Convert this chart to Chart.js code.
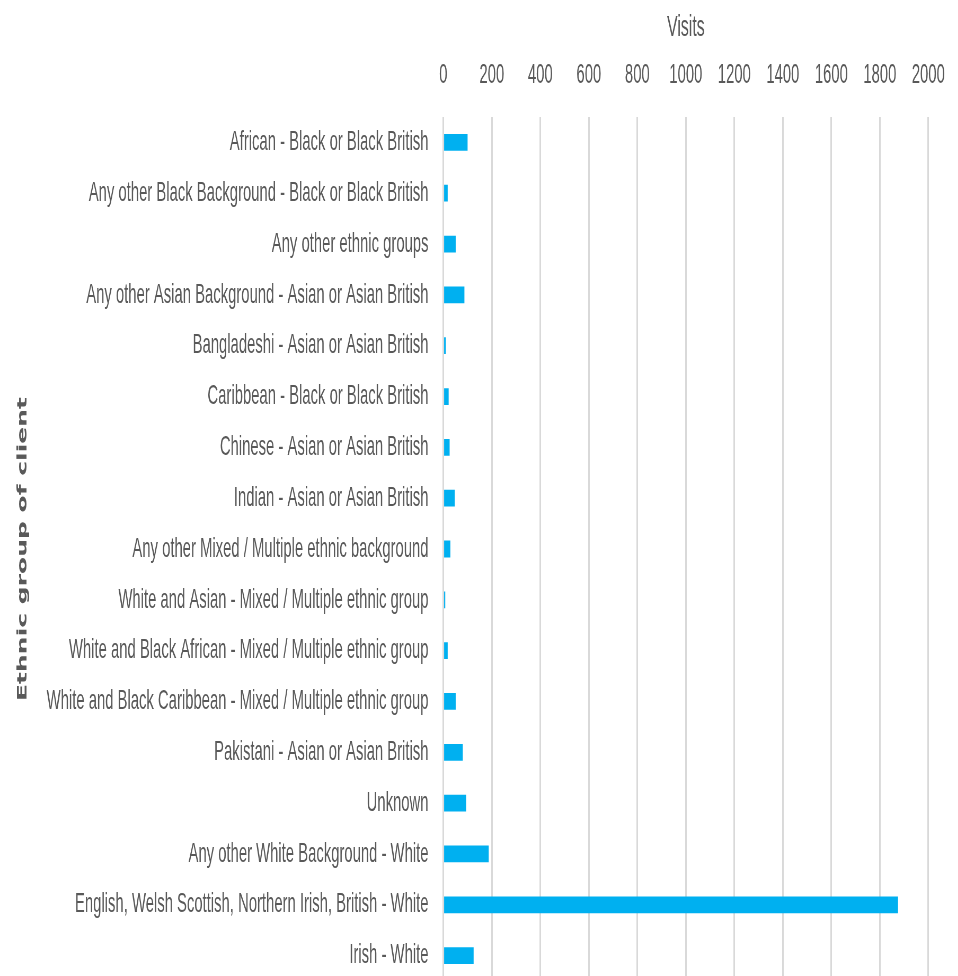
<!DOCTYPE html>
<html>
<head>
<meta charset="utf-8">
<script src="https://cdn.jsdelivr.net/npm/chart.js@4/dist/chart.umd.min.js"></script>
<style>
  html, body { margin: 0; padding: 0; overflow: hidden; background: #fff; }
  /* chart is drawn wide, then narrowed so the text comes out condensed */
  #wrap { width: 1808px; height: 981px; transform: scaleX(0.5299); transform-origin: 0 0; }
</style>
</head>
<body>
<div id="wrap"><canvas id="chart" width="1808" height="981"></canvas></div>
<script>
const groups = [
    'African - Black or Black British',
    'Any other Black Background - Black or Black British',
    'Any other ethnic groups',
    'Any other Asian Background - Asian or Asian British',
    'Bangladeshi - Asian or Asian British',
    'Caribbean - Black or Black British',
    'Chinese - Asian or Asian British',
    'Indian - Asian or Asian British',
    'Any other Mixed / Multiple ethnic background',
    'White and Asian - Mixed / Multiple ethnic group',
    'White and Black African - Mixed / Multiple ethnic group',
    'White and Black Caribbean - Mixed / Multiple ethnic group',
    'Pakistani - Asian or Asian British',
    'Unknown',
    'Any other White Background - White',
    'English, Welsh Scottish, Northern Irish, British - White',
    'Irish - White'
];
const visits = [100, 18, 51, 87, 10, 22, 26, 47, 29, 8, 18, 51, 80, 94, 187, 1875, 125];

const textColor = '#595959';
const gridColor = '#d9d9d9';

document.addEventListener('DOMContentLoaded', () => {
    const ctx = document.getElementById('chart').getContext('2d');
    const config = {
        type: 'bar',
        data: {
            labels: groups,
            datasets: [{
                label: 'Visits',
                data: visits,
                backgroundColor: '#00b0f0',
                borderWidth: 0,
                barPercentage: 0.33,
                categoryPercentage: 1
            }]
        },
        options: {
            indexAxis: 'y',
            responsive: false,
            devicePixelRatio: 1,
            animation: false,
            layout: { padding: { left: 0, right: 56, top: 0, bottom: 0 } },
            plugins: {
                legend: { display: false },
                tooltip: { enabled: false }
            },
            scales: {
                x: {
                    position: 'top',
                    min: 0,
                    max: 2000,
                    afterFit: scale => { scale.height = 117; },
                    ticks: {
                        stepSize: 200,
                        padding: 25,
                        color: textColor,
                        font: { family: 'Liberation Sans', size: 28 },
                        callback: value => String(value)
                    },
                    grid: { color: gridColor, lineWidth: 3, drawTicks: false },
                    border: { display: false },
                    title: {
                        display: true,
                        text: 'Visits',
                        color: textColor,
                        padding: { top: 10, bottom: 0 },
                        font: { family: 'Liberation Sans', size: 30 }
                    }
                },
                y: {
                    // bars run to the bottom edge, so no room kept for label overhang
                    afterFit: scale => {
                        scale.width = 836.6;
                        scale.paddingTop = 0;
                        scale.paddingBottom = 0;
                    },
                    ticks: {
                        padding: 20,
                        color: textColor,
                        font: { family: 'Liberation Sans', size: 28 }
                    },
                    grid: { display: false },
                    border: { display: false },
                    title: {
                        display: true,
                        text: 'Ethnic group of client',
                        color: textColor,
                        padding: { top: 28, bottom: 0 },
                        font: { family: 'DejaVu Sans', size: 25, weight: 'bold' }
                    }
                }
            }
        }
    };
    _ = new Chart(ctx, config);
});
</script>
</body>
</html>
